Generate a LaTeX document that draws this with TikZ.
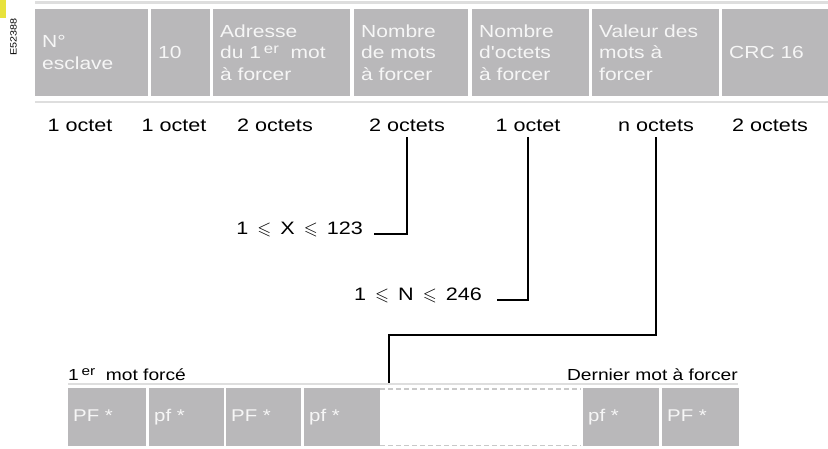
\documentclass[tikz,border=0pt]{standalone}
\usepackage{amssymb}
\usepackage{fontspec}
\setmainfont{Liberation Sans}[FakeStretch=1.2, Ligatures=TeXOff]
\definecolor{fieldgray}{RGB}{185,184,186}
\definecolor{fieldtext}{RGB}{246,246,246}
\definecolor{rulegray}{RGB}{222,222,222}
\definecolor{gapgray}{RGB}{200,200,200}
\definecolor{tagyellow}{RGB}{232,226,60}
\newcommand{\ordsup}[1]{\raisebox{0.55ex}{\scalebox{0.8}{#1}}}
\begin{document}
\begin{tikzpicture}[
    x=1pt, y=-1pt,
    field/.style={fill=fieldgray, text=fieldtext, anchor=north west, align=left,
      minimum height=87pt, inner xsep=7pt, inner ysep=0pt, font=\fontsize{17.5}{21.5}\selectfont},
    word/.style={fill=fieldgray, text=fieldtext, anchor=north west, align=left,
      minimum height=58pt, inner xsep=5pt, inner ysep=0pt, font=\fontsize{17}{21}\selectfont},
    octet/.style={anchor=base, inner sep=0pt, font=\fontsize{18}{20}\selectfont},
    limitlbl/.style={anchor=base east, inner sep=0pt, font=\fontsize{18}{20}\selectfont},
    botlbl/.style={inner sep=0pt, font=\fontsize{16}{18}\selectfont},
    rule/.style={line width=2.5pt, rulegray},
    gapline/.style={line width=1.2pt, gapgray, dash pattern=on 5pt off 3pt},
    link/.style={line width=2.4pt, black},
  ]
    \useasboundingbox (0,0) rectangle (828,448);
    % --- reference tag ---
    \fill[tagyellow] (0,0) rectangle (6,18);
    \node[rotate=90, inner sep=0pt, font=\fontsize{9}{9}\selectfont] (ref) at (13.5,37) {E52388};

    % --- frame fields ---
    \draw[rule] (35,2.5) -- (828,2.5);
    \draw[rule] (35,102) -- (828,102);
    \node[field, text width=99pt]  (f1) at (35,9)  {N°\\esclave};
    \node[field, text width=45pt]  (f2) at (151,9) {10};
    \node[field, text width=123pt] (f3) at (213,9) {Adresse\\du 1\,\ordsup{er}\ \ mot\\à forcer};
    \node[field, text width=100pt] (f4) at (354,9) {Nombre\\de mots\\à forcer};
    \node[field, text width=103pt] (f5) at (472,9) {Nombre\\d'octets\\à forcer};
    \node[field, text width=113pt] (f6) at (592,9) {Valeur des\\mots à\\forcer};
    \node[field, text width=92pt]  (f7) at (722,9) {CRC 16};

    % --- sizes ---
    \node[octet] (o1) at (80,131)  {1 octet};
    \node[octet] (o2) at (174,131) {1 octet};
    \node[octet] (o3) at (275,131) {2 octets};
    \node[octet] (o4) at (407,131) {2 octets};
    \node[octet] (o5) at (528,131) {1 octet};
    \node[octet] (o6) at (656,131) {n octets};
    \node[octet] (o7) at (770,131) {2 octets};

    % --- limits ---
    \node[limitlbl] (xr) at (363,234) {1 \,$\leqslant$\, X \,$\leqslant$\, 123};
    \node[limitlbl] (nr) at (482,300) {1 \,$\leqslant$\, N \,$\leqslant$\, 246};
    \draw[link, shorten <=6pt] (o4.south) |- ([xshift=11pt]xr.base east);
    \draw[link, shorten <=6pt] (o5.south) |- ([xshift=15pt]nr.base east);

    % --- forced words ---
    \coordinate (rl) at (68,384);
    \coordinate (rr) at (738,384);
    \draw[rule, line width=2pt] (rl) -- (rr);
    \node[botlbl, anchor=base west] (first) at (68,380) {1\,\ordsup{er}\ \ mot forcé};
    \node[botlbl, anchor=base east] (last) at (738,380) {Dernier mot à forcer};
    \node[word, text width=68pt] (w1) at (68,388)  {\strut PF *};
    \node[word, text width=65pt] (w2) at (149,388) {\strut pf *};
    \node[word, text width=65pt] (w3) at (226,388) {\strut PF *};
    \node[word, text width=66pt] (w4) at (304,388) {\strut pf *};
    \node[anchor=north west, minimum width=200pt, minimum height=56pt, inner sep=0pt] (gap) at (380,389) {};
    \draw[gapline] (gap.north west) -- (gap.north east);
    \draw[gapline] (gap.south west) -- (gap.south east);
    \node[word, text width=66pt] (w5) at (583,388) {\strut pf *};
    \node[word, text width=67pt] (w6) at (662,388) {\strut PF *};

    % value link down to the gap
    \coordinate (turn) at (389,335);
    \draw[link, shorten <=6pt, shorten >=1pt] (o6.south) |- (turn) -- (turn |- rl);
\end{tikzpicture}
\end{document}
